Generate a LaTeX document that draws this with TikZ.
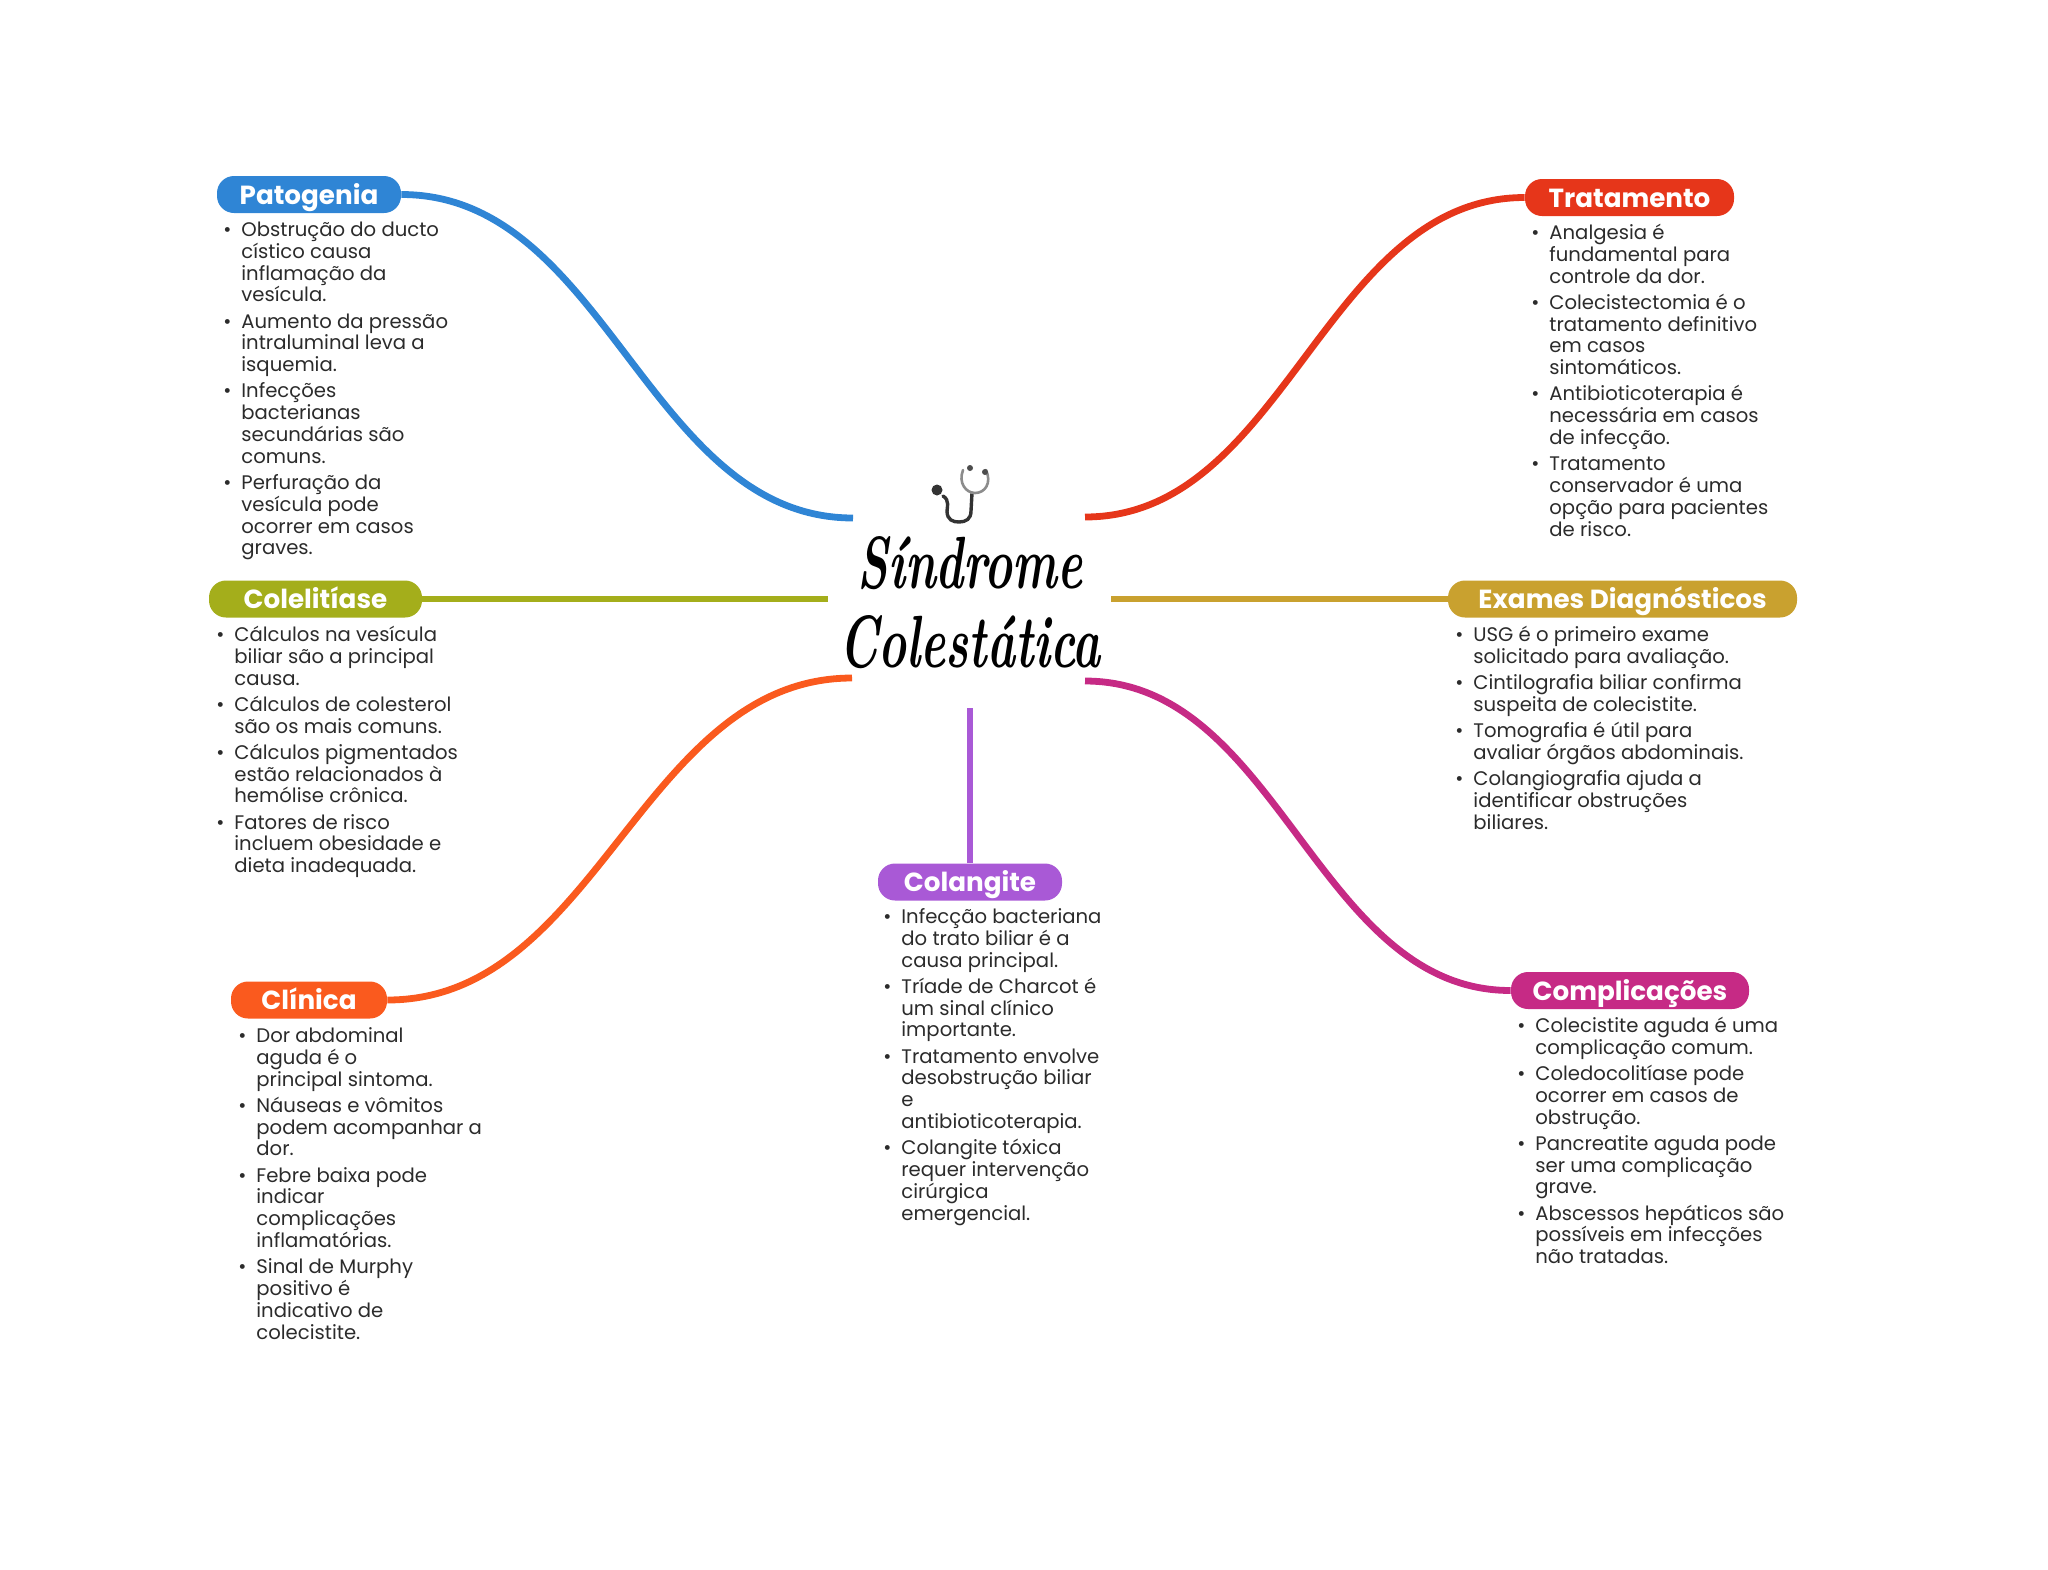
\documentclass[tikz,border=0pt]{standalone}
\usepackage{fontspec}
\setmainfont{Poppins}
\newfontfamily\titlefont{Latin Modern Roman}
\definecolor{cblue}{HTML}{2F85D5}
\definecolor{cred}{HTML}{E6361A}
\definecolor{colive}{HTML}{A4AE1B}
\definecolor{cgold}{HTML}{C9A12F}
\definecolor{corange}{HTML}{FA5A1E}
\definecolor{cpurple}{HTML}{A959D6}
\definecolor{cmag}{HTML}{C62A85}
\definecolor{ctext}{HTML}{2B2B2B}
\lineskiplimit=-20pt
\normallineskiplimit=-20pt
\newcommand\bl{\rule{0pt}{8pt}\llap{\textbullet\hspace{5pt}}}
\newcommand\tsq[1]{\scalebox{0.64}[1]{#1}}
\tikzset{
 pill/.style={fill=#1,rounded corners=8.5pt,inner sep=0pt,minimum height=18.5pt,text=white,
   text height=14.1pt,text depth=4.4pt,
   font=\fontsize{13.1}{15}\selectfont\bfseries},
 lst/.style={anchor=north west,inner sep=0pt,align=left,text=ctext,
   font=\fontsize{9.82}{10.9}\selectfont},
 conn/.style={line width=3.4pt,draw=#1},
}
\begin{document}
\begin{tikzpicture}[x=0.5pt,y=-0.5pt]
\useasboundingbox (0,0) rectangle (2048,1569);
% centre
\node[inner sep=0pt,align=center,font=\titlefont\fontsize{37}{39.5}\selectfont\itshape\bfseries,text=black] (centre) at (970,603) {\tsq{Síndrome}\\\tsq{Colestática}};
\coordinate (cpat) at (853,518);
\coordinate (ctra) at (1085,517);
\coordinate (ccol) at (828,599);
\coordinate (cexa) at (1111,599);
\coordinate (ccli) at (852,678);
\coordinate (ccom) at (1085,681);
\coordinate (ccgt) at (970,708);
% stethoscope
\begin{scope}[line cap=round]
\draw[line width=1.7pt,draw=black!80] (943,496) .. controls (950,500) and (947,508) .. (947,511) .. controls (947,520) and (953,522) .. (959,522) .. controls (966,522) and (971,519) .. (971,511) -- (972,493);
\draw[line width=1.3pt,draw=black!45] (963,470) .. controls (958,483) and (966,493) .. (975,493) .. controls (985,493) and (992,483) .. (986,470);
\fill[black!80] (937,490) circle (5.5);
\fill[black!70] (970,468) circle (3);
\fill[black!70] (985,472) circle (3);
\end{scope}
% pills
\node[pill=cblue,minimum width=92pt] (pat) at (309,194.5) {Patogenia};
\node[pill=cred,minimum width=104.5pt] (tra) at (1629.5,197.5) {Tratamento};
\node[pill=colive,minimum width=106.5pt] (col) at (315.5,599) {Colelitíase};
\node[pill=cgold,minimum width=174.5pt] (exa) at (1622.5,599) {Exames Diagnósticos};
\node[pill=corange,minimum width=78pt] (cli) at (309,1000) {Clínica};
\node[pill=cpurple,minimum width=92pt] (cgt) at (970,882) {Colangite};
\node[pill=cmag,minimum width=119pt] (com) at (1630,990.5) {Complicações};
% connectors
\draw[conn=cblue] (pat.east) .. controls +(205,0) and +(-205,0) .. (cpat);
\draw[conn=cred] (tra.west) .. controls +(-200,0) and +(200,0) .. (ctra);
\draw[conn=colive] (col.east) -- (ccol);
\draw[conn=cgold] (exa.west) -- (cexa);
\draw[conn=corange] (cli.east) .. controls +(210,0) and +(-210,0) .. (ccli);
\draw[conn=cmag] (com.west) .. controls +(-194,0) and +(194,0) .. (ccom);
\draw[conn=cpurple] (ccgt) -- (cgt.north);
% lists
\node[lst] (patl) at (241,220) {\bl Obstrução do ducto\\cístico causa\\inflamação da\\vesícula.\\[2.2pt]
\bl Aumento da pressão\\intraluminal leva a\\isquemia.\\[2.2pt]
\bl Infecções\\bacterianas\\secundárias são\\comuns.\\[2.2pt]
\bl Perfuração da\\vesícula pode\\ocorrer em casos\\graves.};
\node[lst] (tral) at (1549,223) {\bl Analgesia é\\fundamental para\\controle da dor.\\[2.2pt]
\bl Colecistectomia é o\\tratamento definitivo\\em casos\\sintomáticos.\\[2.2pt]
\bl Antibioticoterapia é\\necessária em casos\\de infecção.\\[2.2pt]
\bl Tratamento\\conservador é uma\\opção para pacientes\\de risco.};
\node[lst] (coll) at (234,625) {\bl Cálculos na vesícula\\biliar são a principal\\causa.\\[2.2pt]
\bl Cálculos de colesterol\\são os mais comuns.\\[2.2pt]
\bl Cálculos pigmentados\\estão relacionados à\\hemólise crônica.\\[2.2pt]
\bl Fatores de risco\\incluem obesidade e\\dieta inadequada.};
\node[lst] (exal) at (1473,625) {\bl USG é o primeiro exame\\solicitado para avaliação.\\[2.2pt]
\bl Cintilografia biliar confirma\\suspeita de colecistite.\\[2.2pt]
\bl Tomografia é útil para\\avaliar órgãos abdominais.\\[2.2pt]
\bl Colangiografia ajuda a\\identificar obstruções\\biliares.};
\node[lst] (clil) at (256,1026) {\bl Dor abdominal\\aguda é o\\principal sintoma.\\[2.2pt]
\bl Náuseas e vômitos\\podem acompanhar a\\dor.\\[2.2pt]
\bl Febre baixa pode\\indicar\\complicações\\inflamatórias.\\[2.2pt]
\bl Sinal de Murphy\\positivo é\\indicativo de\\colecistite.};
\node[lst] (cgtl) at (901,907) {\bl Infecção bacteriana\\do trato biliar é a\\causa principal.\\[2.2pt]
\bl Tríade de Charcot é\\um sinal clínico\\importante.\\[2.2pt]
\bl Tratamento envolve\\desobstrução biliar\\e\\antibioticoterapia.\\[2.2pt]
\bl Colangite tóxica\\requer intervenção\\cirúrgica\\emergencial.};
\node[lst] (coml) at (1535,1016) {\bl Colecistite aguda é uma\\complicação comum.\\[2.2pt]
\bl Coledocolitíase pode\\ocorrer em casos de\\obstrução.\\[2.2pt]
\bl Pancreatite aguda pode\\ser uma complicação\\grave.\\[2.2pt]
\bl Abscessos hepáticos são\\possíveis em infecções\\não tratadas.};
\end{tikzpicture}
\end{document}
